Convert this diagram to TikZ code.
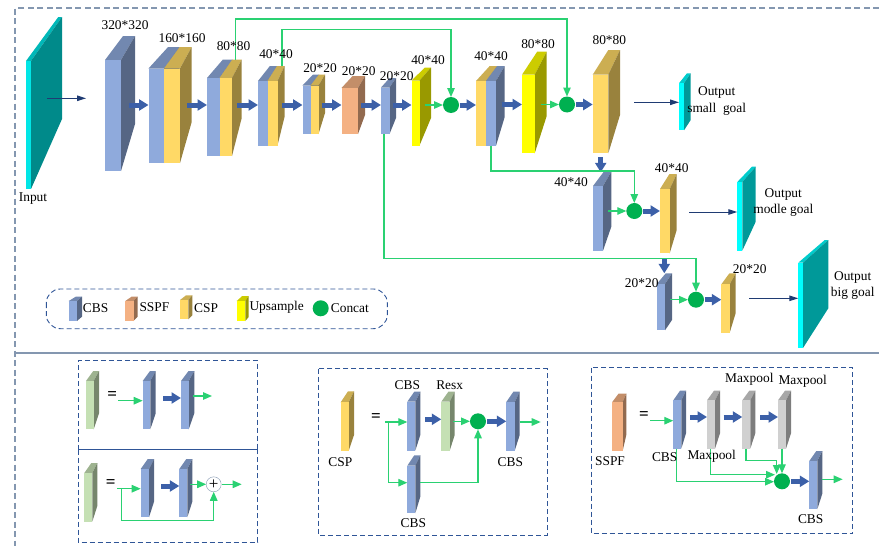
\documentclass[tikz,border=0pt]{standalone}
\usepackage{xcolor}
\usepackage{fontspec}
\setmainfont{Liberation Serif}
\usetikzlibrary{arrows.meta}
\definecolor{cbsblue}{HTML}{8FAADC}
\definecolor{cspyellow}{HTML}{FFD966}
\definecolor{sspforange}{HTML}{F4B183}
\definecolor{upyellow}{HTML}{FFFF00}
\definecolor{resgreen}{HTML}{C5E0B4}
\definecolor{poolgray}{HTML}{D0D0D0}
\definecolor{outcyan}{HTML}{00FFFF}
\definecolor{incyan}{HTML}{00E6E6}
\definecolor{linegreen}{HTML}{2AD172}
\definecolor{concatgreen}{HTML}{00B050}
\definecolor{arrowblue}{HTML}{3C60A8}
\definecolor{arrownavy}{HTML}{1F3B73}
\definecolor{boxblue}{HTML}{2F5597}
\definecolor{frameblue}{HTML}{8497B0}
\newcommand{\prism}[9]{
    \pgfmathsetmacro{\prismw}{#4-#3}
    \pgfmathsetmacro{\prismh}{#6-#5}
    \pgfmathsetmacro{\prismb}{#7-0.75*\prismw}
    \fill[#2!80!black] (#3,#5) -- (\prismb,#8) -- (#7,#8) -- (#4,#5) -- cycle;
    \fill[#2!60!black] (#4,#5) -- (#7,#8) -- (#7,#9) -- (#4,#6) -- cycle;
    \node[block, fill=#2, minimum width=\prismw pt, minimum height=\prismh pt] (#1) at (#3,#5) {};
}
\begin{document}
\begin{tikzpicture}[
    x=1pt, y=-1pt,
    block/.style={rectangle, inner sep=0pt, outer sep=0pt, anchor=north west},
    concat/.style={circle, fill=concatgreen, inner sep=0pt, outer sep=0pt, minimum size=16pt},
    adder/.style={circle, draw=frameblue, fill=white, inner sep=0pt, outer sep=0pt, minimum size=15pt, font=\fontsize{17}{17}\selectfont},
    lbl/.style={inner sep=0pt, font=\fontsize{13.4}{15}\selectfont},
    equals/.style={inner sep=0pt, font=\fontsize{17}{17}\selectfont\bfseries},
    thickarrow/.style={-{Triangle[length=9.5pt, width=11pt]}, line width=5pt, arrowblue},
    greenarrow/.style={-{Triangle[length=9pt, width=7.5pt]}, line width=1.3pt, linegreen},
    navyarrow/.style={-{Triangle[length=9pt, width=5.5pt]}, line width=1pt, arrownavy},
    subbox/.style={draw=boxblue, line width=0.9pt, dash pattern=on 5pt off 3pt},
    framedash/.style={draw=frameblue, line width=1.2pt, dash pattern=on 6pt off 3.5pt}
]
    \useasboundingbox (0,0) rectangle (879,546);
    \draw[framedash] (879,8) -- (15,8) -- (15,546);
    \coordinate (ruleL) at (15,353);
    \coordinate (ruleR) at (879,353);
    \draw[draw=frameblue, line width=1.2pt] (ruleL) -- (ruleR);

    \prism{input}{incyan}{26}{31}{61}{189}{62}{17}{119}
    \prism{b320}{cbsblue}{105}{121}{60}{171}{135}{36}{124}
    \prism{b160}{cbsblue}{148.5}{164}{68.5}{163}{179.7}{47}{122}
    \prism{c160}{cspyellow}{164}{180}{68.5}{163}{191.7}{47}{122}
    \prism{b80}{cbsblue}{207}{219.5}{78}{156}{232.3}{59.5}{118}
    \prism{c80}{cspyellow}{219.5}{232}{78}{156}{241.7}{59.5}{118}
    \prism{b40}{cbsblue}{258}{267.5}{81}{145.5}{277}{66}{117}
    \prism{c40}{cspyellow}{267.5}{277.5}{81}{145.5}{284.5}{66}{117}
    \prism{b20}{cbsblue}{302.5}{310.5}{85.5}{134}{319}{74.5}{113}
    \prism{c20}{cspyellow}{310.5}{318.5}{85.5}{134}{325}{74.5}{113}
    \prism{sspf}{sspforange}{341.5}{358}{88}{134}{365}{76}{115}
    \prism{cbsA}{cbsblue}{381}{389.5}{87.5}{134}{396}{78}{118}
    \prism{upA}{upyellow}{411.5}{419.5}{80.5}{145.5}{431}{67.5}{118}
    \prism{cspB}{cspyellow}{476}{486}{81}{145.7}{497.2}{66}{117}
    \prism{cbsB}{cbsblue}{486}{496}{81}{145.7}{504.7}{66}{117}
    \prism{upB}{upyellow}{522}{534.7}{74.7}{153.3}{546.7}{51.7}{116}
    \prism{cspC}{cspyellow}{592.7}{608.3}{74.7}{153.3}{620}{50}{115}
    \prism{outS}{outcyan}{679}{684}{83.3}{130.3}{690.7}{73.3}{120}
    \prism{cbsC}{cbsblue}{593}{603}{186}{250.7}{611.3}{171.7}{226.7}
    \prism{cspD}{cspyellow}{660}{669.7}{189}{253.3}{676.7}{174}{230}
    \prism{outM}{outcyan}{737.3}{742.3}{182}{250.7}{755.7}{166.7}{221.7}
    \prism{cbsD}{cbsblue}{656.7}{665}{284}{330.3}{672}{273.3}{320}
    \prism{cspE}{cspyellow}{721.3}{729.7}{284.3}{332.7}{735.7}{273.3}{313}
    \prism{outB}{outcyan}{798.3}{803}{262.7}{348}{828.3}{240}{308.3}

    \node[concat] (catA) at (451,105) {};
    \node[concat] (catB) at (567,104.5) {};
    \node[concat] (catC) at (634.3,211) {};
    \node[concat] (catD) at (696,299.7) {};

    \coordinate (inputR) at (47,98.3);
    \coordinate (inputT) at (86,98.3);
    \coordinate (tapA) at (235.7,59.5);
    \coordinate (tapB) at (282,66);
    \coordinate (outSL) at (634,102.3);
    \coordinate (outML) at (689.3,212);
    \coordinate (outBL) at (749,298.3);
    \coordinate (dropA) at (600.7,172.3);
    \coordinate (dropB) at (664.3,273.3);

    \draw[navyarrow] (inputR) -- (inputT);
    \draw[navyarrow] (outSL) -- (outSL -| outS.west);
    \draw[navyarrow] (outML) -- (outML -| outM.west);
    \draw[navyarrow] (outBL) -- (outBL -| outB.west);

    \draw[thickarrow] ([xshift=8pt]b320.east |- catA) -- (b160.west |- catA);
    \draw[thickarrow] ([xshift=7pt]c160.east |- catA) -- (b80.west |- catA);
    \draw[thickarrow] ([xshift=5pt]c80.east |- catA) -- (b40.west |- catA);
    \draw[thickarrow] ([xshift=4.5pt]c40.east |- catA) -- (b20.west |- catA);
    \draw[thickarrow] ([xshift=3pt]c20.east |- catA) -- (sspf.west |- catA);
    \draw[thickarrow] ([xshift=3pt]sspf.east |- catA) -- (cbsA.west |- catA);
    \draw[thickarrow] ([xshift=3pt]cbsA.east |- catA) -- (upA.west |- catA);
    \draw[greenarrow] ([xshift=5.5pt]upA.east |- catA) -- (catA);
    \draw[thickarrow] (catA) ++(8.5,0) -- (cspB.west |- catA);
    \draw[thickarrow] ([xshift=5.5pt]cbsB.east |- catB) -- (upB.west |- catB);
    \draw[greenarrow] ([xshift=6.5pt]upB.east |- catB) -- (catB);
    \draw[thickarrow] (catB) ++(9,0) -- (cspC.west |- catB);
    \draw[thickarrow] (dropA |- cspC.south) ++(0,4) -- (dropA);
    \draw[greenarrow] ([xshift=5pt]cbsC.east |- catC) -- (catC);
    \draw[thickarrow] (catC) ++(9,0) -- (cspD.west |- catC);
    \draw[thickarrow] (dropB |- cspD.south) ++(0,5) -- (dropB);
    \draw[greenarrow] ([xshift=5pt]cbsD.east |- catD) -- (catD);
    \draw[thickarrow] (catD) ++(9,0) -- (cspE.west |- catD);

    \coordinate (turnA) at (235.7,19);
    \coordinate (turnB) at (282,29.3);
    \coordinate (turnC) at (491,171);
    \coordinate (turnD) at (384,258.3);
    \draw[greenarrow] (tapA) -- (turnA) -| (catB.north);
    \draw[greenarrow] (tapB) -- (turnB) -| (catA.north);
    \draw[greenarrow] (turnC |- cbsB.south) -- (turnC) -| (catC.north);
    \draw[greenarrow] (turnD |- cbsA.south) -- (turnD) -| (catD.north);

    \node[lbl] (t320) at (125,25) {320*320};
    \node[lbl] (t160) at (182,38) {160*160};
    \node[lbl] (t80a) at (233.5,46) {80*80};
    \node[lbl] (t40a) at (276,54) {40*40};
    \node[lbl] (t20a) at (320,68) {20*20};
    \node[lbl] (t20b) at (358.7,71) {20*20};
    \node[lbl] (t20c) at (396.7,76) {20*20};
    \node[lbl] (t40b) at (428,60) {40*40};
    \node[lbl] (t40c) at (491,56) {40*40};
    \node[lbl] (t80b) at (538,44) {80*80};
    \node[lbl] (t80c) at (609.3,39.7) {80*80};
    \node[lbl] (t40d) at (571,182.3) {40*40};
    \node[lbl] (t40e) at (671.7,167.7) {40*40};
    \node[lbl] (t20d) at (641.7,282.7) {20*20};
    \node[lbl] (t20e) at (749.7,268.7) {20*20};
    \node[lbl] (tinput) at (33,199) {Input};
    \node[lbl] (tsmallA) at (716.7,92.3) {Output};
    \node[lbl] (tsmallB) at (716.7,109) {small\ \ goal};
    \node[lbl] (tmodA) at (783.3,194) {Output};
    \node[lbl] (tmodB) at (783.3,210.3) {modle goal};
    \node[lbl] (tbigA) at (852.7,277.3) {Output};
    \node[lbl] (tbigB) at (852.7,293.7) {big goal};

    \draw[subbox, rounded corners=14pt] (46.3,289) rectangle (387.3,328.7);
    \prism{keyCbs}{cbsblue}{68.7}{77}{301}{321}{82}{296.7}{316.7}
    \prism{keySspf}{sspforange}{125.3}{133.5}{301}{321}{137.7}{296.7}{316.7}
    \prism{keyCsp}{cspyellow}{180}{188.3}{300}{319.3}{192.3}{295.3}{315.3}
    \prism{keyUp}{upyellow}{236.7}{245.3}{301}{321}{248.7}{296}{317}
    \node[concat] (keyCat) at (320.7,308.3) {};
    \node[lbl, anchor=west] (tkeyCbs) at (82.7,308.3) {CBS};
    \node[lbl, anchor=west] (tkeySspf) at (139.3,307) {SSPF};
    \node[lbl, anchor=west] (tkeyCsp) at (194,308) {CSP};
    \node[lbl, anchor=west] (tkeyUp) at (249.3,307.3) {Upsample};
    \node[lbl, anchor=west] (tkeyCat) at (330.7,308.3) {Concat};

    \draw[subbox] (78.3,449.7) -- (78.3,360.3) -- (257.7,360.3) -- (257.7,449.7);
    \draw[subbox] (78.3,449.7) -- (78.3,542.3) -- (257.7,542.3) -- (257.7,449.7);
    \coordinate (sepL) at (78.3,449.7);
    \coordinate (sepR) at (257.7,449.7);
    \draw[boxblue, line width=0.9pt] (sepL) -- (sepR);

    \prism{resA}{resgreen}{86}{93.7}{381}{429.3}{99}{371}{413.3}
    \prism{resAa}{cbsblue}{142.7}{150.3}{381}{429.3}{155.7}{371}{413.3}
    \prism{resAb}{cbsblue}{181}{188.7}{381}{429.3}{194.3}{371}{413.3}
    \node[equals] (eqA) at (112.3,396) {=};
    \coordinate (resAin) at (118,400.7);
    \coordinate (resAout) at (212,396);
    \coordinate (resAmid) at (163,398);
    \draw[greenarrow] (resAin) -- (resAin -| resAa.west);
    \draw[thickarrow] (resAmid) -- (resAmid -| resAb.west);
    \draw[greenarrow] (resAb.east |- resAout) ++(4,0) -- (resAout);

    \prism{resB}{resgreen}{84.3}{92.3}{473}{521.7}{97.3}{463}{506}
    \prism{resBa}{cbsblue}{140.7}{149}{469}{517.3}{154}{459}{501.7}
    \prism{resBb}{cbsblue}{179.3}{187.3}{469}{517.3}{192.3}{459}{501.7}
    \node[equals] (eqB) at (110.7,484) {=};
    \node[adder] (plus) at (213.7,484.3) {+};
    \coordinate (resBin) at (117,488.7);
    \coordinate (resBjoin) at (121.7,488.7);
    \coordinate (resBdown) at (121.7,520.3);
    \coordinate (resBout) at (241.7,484.3);
    \coordinate (resBmid) at (161.3,486);
    \draw[greenarrow] (resBin) -- (resBin -| resBa.west);
    \draw[greenarrow] (resBjoin) -- (resBdown) -| (plus.south);
    \draw[thickarrow] (resBmid) -- (resBmid -| resBb.west);
    \draw[greenarrow] (resBb.east |- plus) ++(2.7,0) -- (plus);
    \draw[greenarrow] (plus) ++(8.3,0) -- (resBout);

    \draw[subbox] (318.3,368.7) rectangle (547,535);
    \prism{cspKey}{cspyellow}{340.7}{348.7}{402.3}{450.7}{354}{391.3}{435}
    \prism{cspCbsA}{cbsblue}{407.3}{415.3}{401.7}{450.7}{420.3}{391.7}{435}
    \prism{cspRes}{resgreen}{441.3}{449.7}{401.7}{450.7}{454.7}{391.7}{435}
    \prism{cspCbsB}{cbsblue}{407.3}{415.3}{465.7}{513.3}{420.3}{455.3}{496.7}
    \prism{cspCbsC}{cbsblue}{506.3}{514.7}{402}{450.7}{519.7}{391.7}{435}
    \node[concat] (cspCat) at (478,421.3) {};
    \node[equals] (eqC) at (376,417.7) {=};
    \coordinate (cspIn) at (385,422);
    \coordinate (cspJoin) at (388.7,422);
    \coordinate (cspLow) at (388.7,482.7);
    \coordinate (cspBr) at (420.3,482.7);
    \coordinate (cspOut) at (540.7,422);
    \coordinate (cspMid) at (425.3,419.3);
    \draw[greenarrow] (cspIn) -- (cspIn -| cspCbsA.west);
    \draw[greenarrow] (cspJoin) -- (cspLow) -- (cspLow -| cspCbsB.west);
    \draw[thickarrow] (cspMid) -- (cspMid -| cspRes.west);
    \draw[greenarrow] (cspRes.east |- cspCat) ++(3.6,0) -- (cspCat);
    \draw[greenarrow] (cspBr) -| (cspCat.south);
    \draw[thickarrow] (cspCat) ++(9,0) -- (cspCbsC.west |- cspCat);
    \draw[greenarrow] (cspCbsC.east |- cspOut) ++(5,0) -- (cspOut);
    \node[lbl] (tcspKey) at (340.3,461.7) {CSP};
    \node[lbl] (tcspA) at (407.3,385) {CBS};
    \node[lbl] (tcspRes) at (449.7,385) {Resx};
    \node[lbl] (tcspB) at (413.3,523.3) {CBS};
    \node[lbl] (tcspC) at (510.3,461.7) {CBS};

    \draw[subbox] (591.7,367.7) rectangle (852.7,533.7);
    \prism{spfKey}{sspforange}{612.3}{622.7}{402}{450.7}{626.3}{393.7}{435}
    \prism{spfCbsA}{cbsblue}{673.3}{681.3}{400.3}{448.7}{686}{390.7}{433.3}
    \prism{poolA}{poolgray}{707}{715}{400.3}{448.7}{720}{390.7}{433.3}
    \prism{poolB}{poolgray}{742.3}{750.3}{400.3}{448.7}{755.3}{390.7}{433.3}
    \prism{poolC}{poolgray}{778}{786}{400.3}{448.7}{791}{390.7}{433.3}
    \prism{spfCbsB}{cbsblue}{809.3}{817.3}{461}{509.3}{822.3}{451}{493.7}
    \node[concat] (spfCat) at (782,481.3) {};
    \node[equals] (eqD) at (644,416) {=};
    \coordinate (spfIn) at (650.3,420.7);
    \coordinate (spfOut) at (842.7,479.3);
    \coordinate (spfTurnA) at (676.3,481.7);
    \coordinate (spfTurnB) at (710.7,474.7);
    \coordinate (spfTurnC) at (746,460.7);
    \coordinate (spfTurnD) at (776.7,460.7);
    \coordinate (spfEndB) at (775,474.7);
    \coordinate (spfEndD) at (776.7,474);
    \coordinate (spfMidA) at (690,417);
    \coordinate (spfMidB) at (723.7,417);
    \coordinate (spfMidC) at (760,417);
    \draw[greenarrow] (spfIn) -- (spfIn -| spfCbsA.west);
    \draw[thickarrow] (spfMidA) -- (spfMidA -| poolA.west);
    \draw[thickarrow] (spfMidB) -- (spfMidB -| poolB.west);
    \draw[thickarrow] (spfMidC) -- (spfMidC -| poolC.west);
    \draw[greenarrow] (spfTurnA |- spfCbsA.south) -- (spfTurnA) -- (spfCat.west |- spfTurnA);
    \draw[greenarrow] (spfTurnB |- poolA.south) -- (spfTurnB) -- (spfEndB);
    \draw[greenarrow] (spfTurnC |- poolB.south) -- (spfTurnC) -- (spfTurnD) -- (spfEndD);
    \draw[greenarrow] (poolC.south -| spfCat) -- (spfCat.north);
    \draw[thickarrow] (spfCat) ++(9,0) -- (spfCbsB.west |- spfCat);
    \draw[greenarrow] (spfCbsB.east |- spfOut) ++(4.4,0) -- (spfOut);
    \node[lbl] (tspfKey) at (610,460.7) {SSPF};
    \node[lbl] (tspfA) at (664.7,456.7) {CBS};
    \node[lbl] (tpoolA) at (711.7,456.7) {Maxpool};
    \node[lbl] (tpoolB) at (749.3,379.3) {Maxpool};
    \node[lbl] (tpoolC) at (802.7,381) {Maxpool};
    \node[lbl] (tspfB) at (810.7,518.7) {CBS};
\end{tikzpicture}
\end{document}
